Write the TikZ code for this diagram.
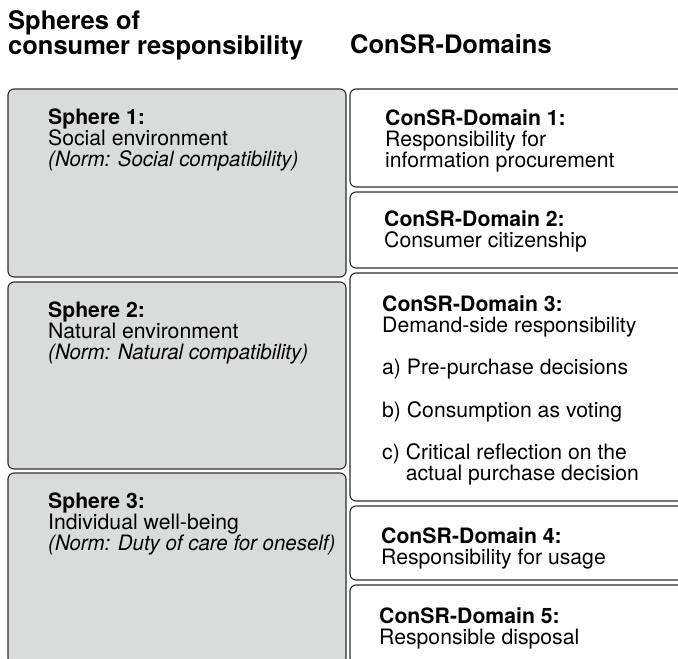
\documentclass[tikz,border=0pt]{standalone}
\usepackage{fontspec}
\setmainfont{TeX Gyre Heros}
\definecolor{spheregray}{RGB}{218,219,219}
\definecolor{boxline}{RGB}{45,45,45}
\newcommand{\bodyfont}{\fontsize{21.2}{21}\selectfont}
\newcommand{\headfont}{\fontsize{25.5}{25}\selectfont\bfseries}
\newcommand{\normtext}[1]{\scalebox{0.965}[1]{\itshape #1}}

\begin{document}
\begin{tikzpicture}[x=1pt,y=-1pt]
\tikzstyle{every node}+=[inner sep=0pt]
\tikzstyle{spherebox}=[draw=boxline,fill=spheregray,line width=1.1pt,rounded corners=6pt]
\tikzstyle{consrbox}=[draw=boxline,fill=white,line width=1.1pt,rounded corners=6pt]
\tikzstyle{txt}=[anchor=north west,align=left,font=\bodyfont]
\clip (0,0) rectangle (678,659);
% headings
\node [anchor=north west,align=left,font=\headfont] (headsph) at (8,10) {Spheres of\\consumer responsibility};
\node [anchor=base west,font=\headfont] (headdom) at (350,53) {ConSR-Domains};
% spheres
\draw [spherebox] (8,89) rectangle (346,277);
\draw [spherebox] (8,282) rectangle (346,469);
\draw [spherebox] (8,473) rectangle (346,664);
\node [txt] (sph1) at (48,109) {\textbf{Sphere 1:}\\Social environment\\\normtext{(Norm: Social compatibility)}};
\node [txt] (sph2) at (48,302) {\textbf{Sphere 2:}\\Natural environment\\\normtext{(Norm: Natural compatibility)}};
\node [txt] (sph3) at (48,493) {\textbf{Sphere 3:}\\Individual well-being\\\normtext{(Norm: Duty of care for oneself)}};
% domains
\draw [consrbox] (350,89) rectangle (690,187);
\draw [consrbox] (350,192) rectangle (690,268);
\draw [consrbox] (350,273) rectangle (690,501);
\draw [consrbox] (350,506) rectangle (690,580);
\draw [consrbox] (350,585) rectangle (690,664);
\node [txt] (dom1) at (385,110) {\textbf{ConSR-Domain 1:}\\Responsibility for\\information procurement};
\node [txt] (dom2) at (384,211) {\textbf{ConSR-Domain 2:}\\Consumer citizenship};
\node [txt] (dom3) at (382,295) {\textbf{ConSR-Domain 3:}\\Demand-side responsibility\\[21.5pt]a) Pre-purchase decisions\\[21.5pt]b) Consumption as voting\\[21.5pt]c) Critical reflection on the\\\phantom{c) }actual purchase decision};
\node [txt] (dom4) at (381,527) {\textbf{ConSR-Domain 4:}\\Responsibility for usage};
\node [txt] (dom5) at (379,607) {\textbf{ConSR-Domain 5:}\\Responsible disposal};
\end{tikzpicture}
\end{document}
